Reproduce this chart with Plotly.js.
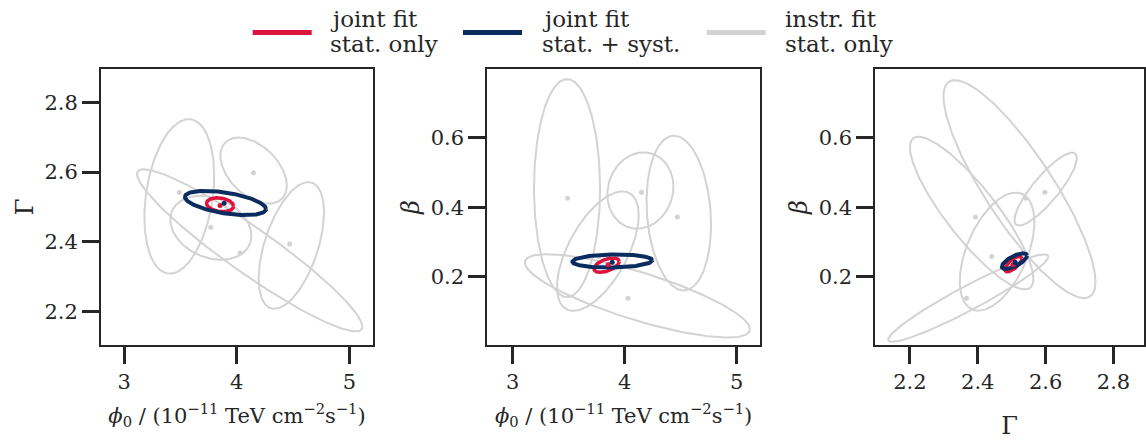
<!DOCTYPE html>
<html>
<head>
<meta charset="utf-8">
<script src="https://cdn.plot.ly/plotly-3.0.1.min.js"></script>
<style>
  html, body { margin: 0; padding: 0; background: #ffffff; }
  #chart { width: 1146px; height: 441px; }
</style>
</head>
<body>
<div id="chart"></div>
<script>
// ---------------- DATA ----------------
// Instrument fits (stat. only): best-fit points
const instPhi0  = [3.49, 4.15, 3.77, 4.47, 4.03];
const instGamma = [2.541, 2.598, 2.441, 2.393, 2.367];
const instBeta  = [0.426, 0.443, 0.258, 0.372, 0.1375];

// Instrument contours, panel 1 (phi0 vs Gamma): centre, half-extents, correlation
const p1Cx  = [3.49, 4.15, 3.77, 4.485, 4.115];
const p1Cy  = [2.530, 2.604, 2.440, 2.389, 2.375];
const p1Sx  = [0.310, 0.295, 0.360, 0.290, 1.000];
const p1Sy  = [0.222, 0.095, 0.092, 0.182, 0.233];
const p1Rho = [0.27, -0.45, -0.25, 0.52, -0.94];

// panel 2 (phi0 vs beta)
const p2Cx  = [3.485, 4.140, 3.760, 4.483, 4.113];
const p2Cy  = [0.455, 0.448, 0.2735, 0.383, 0.1445];
const p2Sx  = [0.295, 0.295, 0.365, 0.288, 1.005];
const p2Sy  = [0.314, 0.110, 0.172, 0.223, 0.120];
const p2Rho = [0.0, 0.1, 0.6, -0.15, -0.8];

// panel 3 (Gamma vs beta)
const p3Cx  = [2.523, 2.600, 2.457, 2.382, 2.372];
const p3Cy  = [0.452, 0.452, 0.272, 0.383, 0.138];
const p3Sx  = [0.224, 0.092, 0.110, 0.182, 0.236];
const p3Sy  = [0.314, 0.105, 0.170, 0.220, 0.126];
const p3Rho = [-0.85, 0.85, 0.5, -0.86, 0.95];

// Joint fit, stat. only (red): best fit and contours per panel [p1, p2, p3]
const statPhi0 = 3.852, statGamma = 2.504, statBeta = 0.234;
const statCx  = [3.852, 3.838, 2.505];
const statCy  = [2.506, 0.233, 0.236];
const statSx  = [0.120, 0.113, 0.025];
const statSy  = [0.020, 0.0206, 0.022];
const statRho = [-0.2, 0.5, 0.7];

// Joint fit, stat. + syst. (navy)
const systPhi0 = 3.888, systGamma = 2.510, systBeta = 0.241;
const systCx  = [3.900, 3.890, 2.508];
const systCy  = [2.511, 0.245, 0.2445];
const systSx  = [0.360, 0.357, 0.037];
const systSy  = [0.035, 0.019, 0.0225];
const systRho = [-0.5, 0.1, 0.7];

// Tick labels
const phiTicks   = [3, 4, 5];
const gammaTicks = [2.2, 2.4, 2.6, 2.8];
const betaTicks  = [0.2, 0.4, 0.6];

// Legend labels
const legendLabels = [["joint fit", "stat. only"], ["joint fit", "stat. + syst."], ["instr. fit", "stat. only"]];

// ---------------- STYLE ----------------
const RED = '#dc143c', NAVY = '#0b2c5f', GRAY = '#d3d3d3', INK = '#262626';
const FONT = 'DejaVu Serif';
const W = 1146, H = 441;

function ellipse(cx, cy, sx, sy, rho) {
  const xs = [], ys = [], n = 240, c = Math.sqrt(1 - rho * rho);
  for (let i = 0; i <= n; i++) {
    const t = 2 * Math.PI * i / n;
    xs.push(cx + sx * Math.cos(t));
    ys.push(cy + sy * (rho * Math.cos(t) + c * Math.sin(t)));
  }
  return {xs, ys};
}

const traces = [];
const panels = [
  {xa: 'x',  ya: 'y',  cx: p1Cx, cy: p1Cy, sx: p1Sx, sy: p1Sy, rho: p1Rho, px: instPhi0,  py: instGamma, sp: [statPhi0, statGamma], yp: [systPhi0, systGamma]},
  {xa: 'x2', ya: 'y2', cx: p2Cx, cy: p2Cy, sx: p2Sx, sy: p2Sy, rho: p2Rho, px: instPhi0,  py: instBeta,  sp: [statPhi0, statBeta],  yp: [systPhi0, systBeta]},
  {xa: 'x3', ya: 'y3', cx: p3Cx, cy: p3Cy, sx: p3Sx, sy: p3Sy, rho: p3Rho, px: instGamma, py: instBeta,  sp: [statGamma, statBeta], yp: [systGamma, systBeta]}
];
panels.forEach((p, k) => {
  for (let i = 0; i < p.cx.length; i++) {
    const e = ellipse(p.cx[i], p.cy[i], p.sx[i], p.sy[i], p.rho[i]);
    traces.push({x: e.xs, y: e.ys, xaxis: p.xa, yaxis: p.ya, mode: 'lines',
      line: {color: GRAY, width: 2}, showlegend: false, hoverinfo: 'skip'});
  }
  traces.push({x: p.px, y: p.py, xaxis: p.xa, yaxis: p.ya, mode: 'markers',
    marker: {color: GRAY, size: 5}, showlegend: false});
  const er = ellipse(statCx[k], statCy[k], statSx[k], statSy[k], statRho[k]);
  traces.push({x: er.xs, y: er.ys, xaxis: p.xa, yaxis: p.ya, mode: 'lines',
    line: {color: RED, width: 3.5}, showlegend: false, hoverinfo: 'skip'});
  const en = ellipse(systCx[k], systCy[k], systSx[k], systSy[k], systRho[k]);
  traces.push({x: en.xs, y: en.ys, xaxis: p.xa, yaxis: p.ya, mode: 'lines',
    line: {color: NAVY, width: 4}, showlegend: false, hoverinfo: 'skip'});
  traces.push({x: [p.sp[0]], y: [p.sp[1]], xaxis: p.xa, yaxis: p.ya, mode: 'markers',
    marker: {color: RED, size: 5}, showlegend: false});
  traces.push({x: [p.yp[0]], y: [p.yp[1]], xaxis: p.xa, yaxis: p.ya, mode: 'markers',
    marker: {color: NAVY, size: 5}, showlegend: false});
});

const yDom = [1 - 345 / H, 1 - 69 / H];
function ax(domain, range, ticks, extra) {
  return Object.assign({
    domain: domain, range: range, tickmode: 'array', tickvals: ticks,
    ticktext: ticks.map(v => String(v)),
    showline: true, mirror: true, linecolor: INK, linewidth: 2,
    ticks: 'outside', ticklen: 17, tickwidth: 3, tickcolor: INK,
    showgrid: false, zeroline: false, fixedrange: true,
    tickfont: {family: FONT, size: 21, color: INK}
  }, extra || {});
}
const PAD = '\u00a0';
const xTitle = '<i>ϕ</i><sub>0</sub> / (10<sup>−11</sup> TeV cm<sup>−2</sup>s<sup>−1</sup>)';
const xTitleFont = {family: FONT, size: 21, color: INK};
const yTitleFont = {family: FONT, size: 24, color: INK};
const layout = {
  width: W, height: H,
  margin: {l: 0, r: 0, t: 0, b: 0},
  paper_bgcolor: '#ffffff', plot_bgcolor: '#ffffff',
  showlegend: false,
  xaxis:  ax([101 / W, 373 / W], [2.795, 5.21], phiTicks,
    {anchor: 'y', title: {text: xTitle, font: xTitleFont, standoff: 15}}),
  yaxis:  ax(yDom, [2.103, 2.896], gammaTicks,
    {anchor: 'x', ticksuffix: PAD, title: {text: 'Γ', font: yTitleFont, standoff: 4}}),
  xaxis2: ax([487.3 / W, 760 / W], [2.773, 5.208], phiTicks,
    {anchor: 'y2', title: {text: xTitle, font: xTitleFont, standoff: 15}}),
  yaxis2: ax(yDom, [0.003, 0.798], betaTicks,
    {anchor: 'x2', ticksuffix: PAD, title: {text: '<i>β</i>', font: yTitleFont, standoff: 4}}),
  xaxis3: ax([875.3 / W, 1144 / W], [2.098, 2.890], gammaTicks,
    {anchor: 'y3', title: {text: 'Γ', font: yTitleFont, standoff: 24}}),
  yaxis3: ax(yDom, [0.003, 0.798], betaTicks,
    {anchor: 'x3', ticksuffix: PAD, title: {text: '<i>β</i>', font: yTitleFont, standoff: 4}}),
  shapes: [], annotations: []
};

// manual legend (handles + two-line labels)
const legColors = [RED, NAVY, GRAY];
const legX0 = [252.7, 463, 706.7];
const legTextX = [328, 540, 783];
legColors.forEach((c, i) => {
  layout.shapes.push({type: 'line', xref: 'paper', yref: 'paper',
    x0: legX0[i] / W, x1: (legX0[i] + 59) / W, y0: 1 - 32.5 / H, y1: 1 - 32.5 / H,
    line: {color: c, width: 5}});
  legendLabels[i].forEach((t, j) => {
    layout.annotations.push({xref: 'paper', yref: 'paper', x: legTextX[i] / W,
      y: 1 - (j === 0 ? 19 : 44) / H, xanchor: 'left', yanchor: 'middle',
      text: t, showarrow: false, align: 'left',
      font: {family: FONT, size: 23, color: INK}});
  });
});

Plotly.newPlot('chart', traces, layout, {staticPlot: true, displayModeBar: false});
</script>
</body>
</html>
